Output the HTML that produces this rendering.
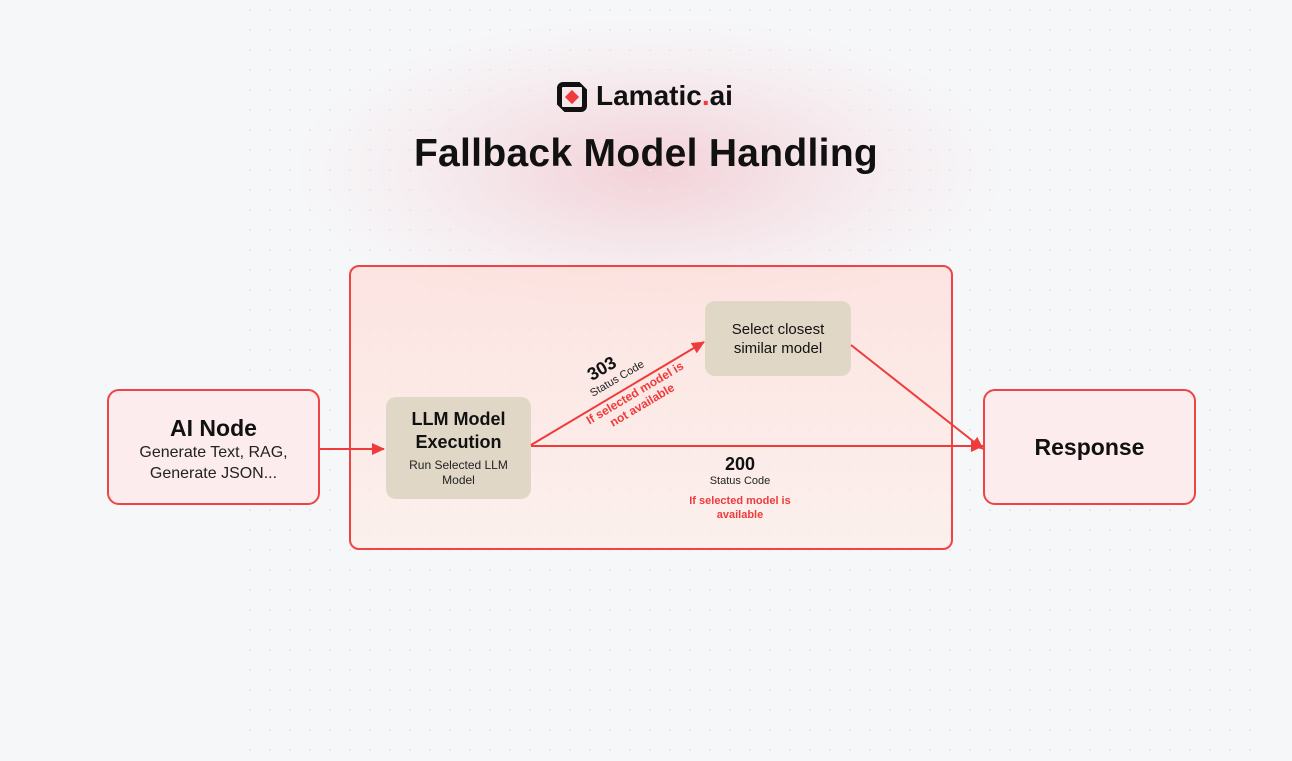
<!DOCTYPE html>
<html><head><style>
body{margin:0;width:1292px;height:761px;overflow:hidden;background:#f6f7f9;font-family:"Liberation Sans",sans-serif;position:relative}
.dots{position:absolute;left:0;top:0;width:1292px;height:761px;background-image:radial-gradient(circle,#e6e8eb 1px,transparent 1.3px);background-size:20px 20px;background-position:240px 0;-webkit-mask:linear-gradient(90deg,transparent 230px,#000 240px,#000 1250px,transparent 1260px)}
.glow{position:absolute;left:300px;top:20px;width:700px;height:300px;background:radial-gradient(ellipse at center,rgba(240,180,190,.55),rgba(246,220,225,.3) 50%,rgba(246,247,249,0) 72%)}
.box{position:absolute;box-sizing:border-box}
.abs{position:absolute}
</style></head><body>
<div class="glow"></div>
<div class="dots"></div>
<div class="box" style="left:349px;top:265px;width:604px;height:285px;border:2px solid #ef4444;border-radius:10px;background:linear-gradient(180deg,rgba(255,220,215,.7),rgba(255,235,228,.6))"></div>
<div class="abs" style="left:557px;top:82px;width:30px;height:30px;box-sizing:border-box;border:5px solid #111;border-radius:6px;clip-path:polygon(0 0,75% 0,100% 25%,100% 100%,25% 100%,0 75%)"></div>
<div class="abs" style="left:567px;top:92px;width:10px;height:10px;background:#ef3b3b;transform:rotate(45deg)"></div>
<div class="abs" style="left:596px;top:80px;font-size:28px;font-weight:bold;color:#111">Lamatic<span style="color:#ef3b3b">.</span>ai</div>
<div class="abs" style="left:0;width:1292px;top:132px;text-align:center;font-size:39px;font-weight:bold;color:#111;letter-spacing:0.3px">Fallback Model Handling</div>
<div class="box" style="left:107px;top:389px;width:213px;height:116px;border:2px solid #ef4444;border-radius:12px;background:#fdeced;text-align:center;padding-top:24px">
<div style="font-size:23px;font-weight:bold;color:#111">AI Node</div>
<div style="font-size:16px;color:#222;line-height:21px">Generate Text, RAG,<br>Generate JSON...</div></div>
<div class="box" style="left:983px;top:389px;width:213px;height:116px;border:2px solid #ef4444;border-radius:12px;background:#fdeced;text-align:center;line-height:112px;font-size:23px;font-weight:bold;color:#111">Response</div>
<div class="box" style="left:386px;top:397px;width:145px;height:102px;border-radius:10px;background:#e1d7c6;text-align:center;padding-top:11px">
<div style="font-size:18px;font-weight:bold;color:#111;line-height:23px">LLM Model<br>Execution</div>
<div style="font-size:12px;color:#222;line-height:15px;margin-top:4px">Run Selected LLM<br>Model</div></div>
<div class="box" style="left:705px;top:301px;width:146px;height:75px;border-radius:10px;background:#e1d7c6;text-align:center;padding-top:19px;font-size:15px;color:#111;line-height:19px">Select closest<br>similar model</div>
<svg class="abs" style="left:0;top:0" width="1292" height="761">
<defs><marker id="a" markerWidth="13" markerHeight="12" refX="12" refY="6" orient="auto" markerUnits="userSpaceOnUse"><path d="M0,0 L13,6 L0,12z" fill="#ef3b3b"/></marker></defs>
<g stroke="#ef3b3b" stroke-width="2" fill="none" marker-end="url(#a)">
<line x1="320" y1="449" x2="384" y2="449"/>
<line x1="531" y1="446" x2="983" y2="446"/>
<line x1="531" y1="445" x2="704" y2="342"/>
<line x1="851" y1="345" x2="983" y2="449"/>
</g>
<g transform="translate(612,374) rotate(-30.7)" text-anchor="middle" font-family="Liberation Sans,sans-serif">
<text x="-6" y="-4" font-size="18" font-weight="bold" fill="#111">303</text>
<text x="2" y="10" font-size="11" fill="#222">Status Code</text>
<text x="10" y="32" font-size="12" font-weight="bold" fill="#ef3b3b">If selected model is</text>
<text x="10" y="46" font-size="12" font-weight="bold" fill="#ef3b3b">not available</text>
</g>
<g text-anchor="middle" font-family="Liberation Sans,sans-serif">
<text x="740" y="470" font-size="18" font-weight="bold" fill="#111">200</text>
<text x="740" y="484" font-size="11" fill="#222">Status Code</text>
<text x="740" y="504" font-size="11" font-weight="bold" fill="#ef3b3b">If selected model is</text>
<text x="740" y="518" font-size="11" font-weight="bold" fill="#ef3b3b">available</text>
</g>
</svg>
</body></html>
